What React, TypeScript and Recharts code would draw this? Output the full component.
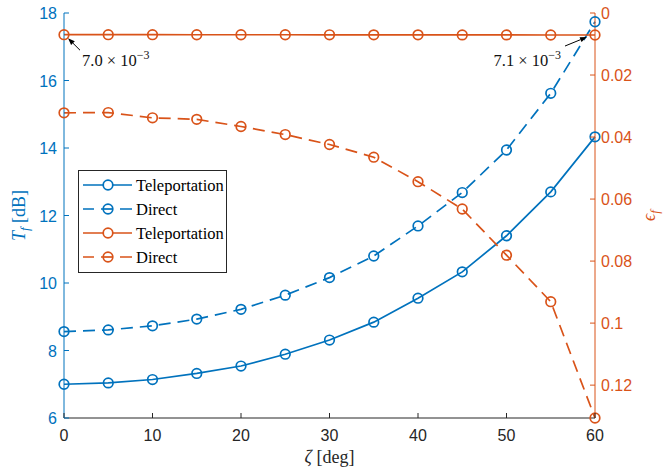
import React from 'react';
import { ComposedChart, Line, XAxis, YAxis, ReferenceDot } from 'recharts';

// tilt angle sweep
const zeta = [0, 5, 10, 15, 20, 25, 30, 35, 40, 45, 50, 55, 60];

// T_f [dB] (left axis)
const teleT = [7.0, 7.04, 7.14, 7.32, 7.54, 7.89, 8.31, 8.84, 9.55, 10.33, 11.4, 12.7, 14.33];
const directT = [8.56, 8.61, 8.73, 8.93, 9.22, 9.64, 10.16, 10.8, 11.69, 12.68, 13.94, 15.62, 17.74];

// epsilon_f (right axis, reversed)
const teleEps = [0.007, 0.007, 0.007, 0.00701, 0.00701, 0.00702, 0.00703, 0.00704, 0.00705, 0.00706, 0.00707, 0.00709, 0.0071];
const directEps = [0.0322, 0.0321, 0.0338, 0.0343, 0.0366, 0.0392, 0.0424, 0.0465, 0.0544, 0.0632, 0.0781, 0.0931, 0.1306];

const xTicks = [0, 10, 20, 30, 40, 50, 60];
const leftTicks = [6, 8, 10, 12, 14, 16, 18];
const rightTicks = [0, 0.02, 0.04, 0.06, 0.08, 0.1, 0.12];

const BLUE = '#0072BD';
const ORANGE = '#D95319';
const DARK = '#262626';
const SANS = '"Liberation Sans", Arial, Helvetica, sans-serif';
const SERIF = '"Liberation Serif", "Times New Roman", serif';

const data = zeta.map((z, i) => ({
  zeta: z,
  teleT: teleT[i],
  directT: directT[i],
  teleEps: teleEps[i],
  directEps: directEps[i],
}));

const series = [
  { key: 'teleT', axis: 'left', color: BLUE, dashed: false, name: 'Teleportation' },
  { key: 'directT', axis: 'left', color: BLUE, dashed: true, name: 'Direct' },
  { key: 'teleEps', axis: 'right', color: ORANGE, dashed: false, name: 'Teleportation' },
  { key: 'directEps', axis: 'right', color: ORANGE, dashed: true, name: 'Direct' },
];

const DASH = '12 7';
const LW = 1.7;
const TICK_LEN = 5;

const BottomTick = ({ x, y, payload }: any) => (
  <g>
    <line x1={x} x2={x} y1={y} y2={y - TICK_LEN} stroke={DARK} />
    <text x={x} y={y + 23} textAnchor="middle" fill={DARK} fontSize={16} fontFamily={SANS}>
      {payload.value}
    </text>
  </g>
);

const TopTick = ({ x, y }: any) => (
  <line x1={x} x2={x} y1={y} y2={y + TICK_LEN} stroke={DARK} />
);

const LeftTick = ({ x, y, payload }: any) => (
  <g>
    <line x1={x + 7} x2={x + 7 + TICK_LEN} y1={y} y2={y} stroke={BLUE} />
    <text x={x} y={y + 6} textAnchor="end" fill={BLUE} fontSize={16} fontFamily={SANS}>
      {payload.value}
    </text>
  </g>
);

const RightTick = ({ x, y, payload }: any) => (
  <g>
    <line x1={x - 6} x2={x - 6 - TICK_LEN} y1={y} y2={y} stroke={ORANGE} />
    <text x={x} y={y + 6} textAnchor="start" fill={ORANGE} fontSize={16} fontFamily={SANS}>
      {String(payload.value)}
    </text>
  </g>
);

const LeftLabel = ({ viewBox }: any) => {
  const cx = viewBox.x + 21;
  const cy = viewBox.y + viewBox.height / 2;
  return (
    <text x={cx} y={cy} transform={`rotate(-90, ${cx}, ${cy})`} textAnchor="middle" fill={BLUE} fontSize={18} fontFamily={SERIF}>
      <tspan fontStyle="italic">T</tspan>
      <tspan fontStyle="italic" fontSize={13} dy={4}>f</tspan>
      <tspan dy={-4}> [dB]</tspan>
    </text>
  );
};

const RightLabel = ({ viewBox }: any) => {
  const cx = viewBox.x + viewBox.width;
  const cy = viewBox.y + viewBox.height / 2;
  return (
    <text x={cx} y={cy} transform={`rotate(-90, ${cx}, ${cy})`} textAnchor="middle" fill={ORANGE} fontSize={18} fontFamily={SERIF}>
      <tspan fontStyle="italic">ϵ</tspan>
      <tspan fontStyle="italic" fontSize={13} dy={4}>f</tspan>
    </text>
  );
};

const BottomLabel = ({ viewBox }: any) => {
  const cx = viewBox.x + viewBox.width / 2;
  return (
    <text x={cx} y={viewBox.y + 45} textAnchor="middle" fill={DARK} fontSize={18} fontFamily={SERIF}>
      <tspan fontStyle="italic">ζ</tspan>
      <tspan> [deg]</tspan>
    </text>
  );
};

// small arrow + value note pointing at a data point
const makeNote = (value: number, head: [number, number], tail: [number, number], text: [number, number], anchor: string) =>
  (props: any) => {
    const { cx, cy } = props;
    const hx = cx + head[0];
    const hy = cy + head[1];
    const tx = cx + tail[0];
    const ty = cy + tail[1];
    const ang = Math.atan2(hy - ty, hx - tx);
    const L = 7;
    const W = 2.6;
    const bx = hx - L * Math.cos(ang);
    const by = hy - L * Math.sin(ang);
    const px = -Math.sin(ang) * W;
    const py = Math.cos(ang) * W;
    return (
      <g>
        <line x1={tx} y1={ty} x2={bx} y2={by} stroke="#000" strokeWidth={1} />
        <polygon points={`${hx},${hy} ${bx + px},${by + py} ${bx - px},${by - py}`} fill="#000" />
        <text x={cx + text[0]} y={cy + text[1]} textAnchor={anchor} fill="#111" fontSize={16.5} fontFamily={SERIF}>
          <tspan>{(value * 1e3).toFixed(1)} × 10</tspan>
          <tspan dy={-7} fontSize={12}>−3</tspan>
        </text>
      </g>
    );
  };

// boxed legend, one row per series
const LegendBox = () => (
  <svg width={151} height={105} style={{ position: 'absolute', left: 77, top: 169, display: 'block' }}>
    <rect x={1.5} y={1.5} width={148} height={102} fill="#fff" stroke={DARK} strokeWidth={1} />
    {series.map((s, i) => {
      const y = 16 + i * 24;
      return (
        <g key={s.key}>
          <line x1={6} x2={55} y1={y} y2={y} stroke={s.color} strokeWidth={LW} strokeDasharray={s.dashed ? '12 7' : undefined} strokeDashoffset={s.dashed ? 1 : undefined} />
          <circle cx={31} cy={y} r={4.8} fill="#fff" stroke={s.color} strokeWidth={LW} />
          {s.dashed && <line x1={27} x2={35} y1={y} y2={y} stroke={s.color} strokeWidth={LW} />}
          <text x={59} y={y + 5.5} fill="#000" fontSize={16.5} fontFamily={SERIF}>{s.name}</text>
        </g>
      );
    })}
  </svg>
);

export default function App() {
  return (
    <div style={{ position: 'absolute', left: 0, top: 0, width: 672, height: 470, background: '#fff' }}>
      <ComposedChart width={672} height={470} data={data} margin={{ top: 13, right: 17, bottom: 22, left: 4 }}>
        <XAxis
          xAxisId="bottom"
          dataKey="zeta"
          type="number"
          domain={[0, 60]}
          ticks={xTicks}
          height={30}
          stroke={DARK}
          tickSize={0}
          tickMargin={0}
          tickLine={false}
          tick={<BottomTick />}
          label={<BottomLabel />}
        />
        <XAxis
          xAxisId="top"
          orientation="top"
          dataKey="zeta"
          type="number"
          domain={[0, 60]}
          ticks={xTicks}
          height={0}
          stroke={DARK}
          tickSize={0}
          tickMargin={0}
          tickLine={false}
          tick={<TopTick />}
        />
        <YAxis
          yAxisId="left"
          type="number"
          domain={[6, 18]}
          ticks={leftTicks}
          width={60}
          stroke={BLUE}
          tickSize={0}
          tickMargin={7}
          tickLine={false}
          tick={<LeftTick />}
          label={<LeftLabel />}
        />
        <YAxis
          yAxisId="right"
          orientation="right"
          type="number"
          domain={[0, 0.1306]}
          reversed
          ticks={rightTicks}
          width={60}
          stroke={ORANGE}
          tickSize={0}
          tickMargin={6}
          tickLine={false}
          tick={<RightTick />}
          label={<RightLabel />}
        />
        {series.map((s) => (
          <Line
            key={s.key}
            xAxisId="bottom"
            yAxisId={s.axis}
            dataKey={s.key}
            type="linear"
            stroke={s.color}
            strokeWidth={LW}
            strokeDasharray={s.dashed ? DASH : undefined}
            dot={{ r: 4.8, fill: 'none', stroke: s.color, strokeWidth: LW, strokeDasharray: 'none' }}
            activeDot={false}
            isAnimationActive={false}
          />
        ))}
        <ReferenceDot
          xAxisId="bottom"
          yAxisId="right"
          x={zeta[0]}
          y={teleEps[0]}
          shape={makeNote(teleEps[0], [4, 3.5], [16, 15.5], [18, 31], 'start')}
        />
        <ReferenceDot
          xAxisId="bottom"
          yAxisId="right"
          x={zeta[zeta.length - 1]}
          y={teleEps[teleEps.length - 1]}
          shape={makeNote(teleEps[teleEps.length - 1], [-8, 2], [-30, 11], [-34, 31], 'end')}
        />
      </ComposedChart>
      <LegendBox />
    </div>
  );
}
